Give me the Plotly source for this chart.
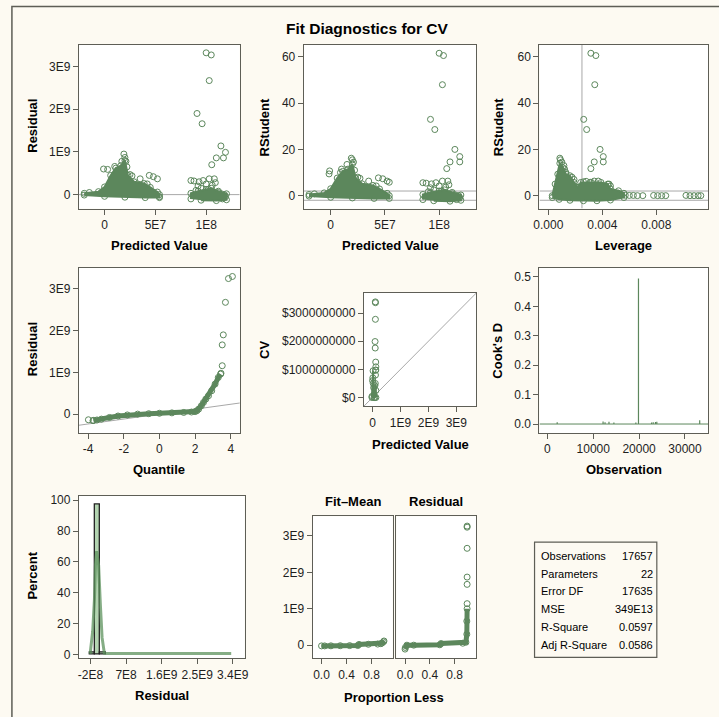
import plotly.graph_objects as go

W, H = 719, 717
GREEN = '#5C875C'
BG = '#FDFAF2'
AXC = '#5E5E56'
REFC = '#A8A8A8'
FONT = 'Liberation Sans, Arial, sans-serif'

# ---------------- data ----------------
# extreme observations (shared by residual / rstudent / leverage / CV panels)
out_pred = [1.00e8, 1.05e8, 1.03e8, 0.91e8, 0.96e8, 1.145e8, 1.19e8, 1.10e8, 1.17e8, 1.055e8]
out_resid = [3.32e9, 3.27e9, 2.67e9, 1.90e9, 1.66e9, 1.14e9, 0.99e9, 0.86e9, 0.86e9, 0.70e9]
out_pred_rs = [1.00e8, 1.04e8, 1.03e8, 0.92e8, 0.96e8, 1.145e8, 1.19e8, 1.10e8, 1.19e8, 1.07e8]
out_rstud = [61.6, 60.6, 48.0, 33.0, 28.6, 20.0, 16.9, 14.6, 14.6, 11.7]
out_lev = [0.00315, 0.00352, 0.00344, 0.00262, 0.00284, 0.00383, 0.00407, 0.00340, 0.00407, 0.00315]
out_cv = [3.40e9, 3.37e9, 2.78e9, 1.99e9, 1.76e9, 1.26e9, 1.09e9, 0.97e9, 0.98e9, 0.80e9]

# panel 1: dense regions (residual vs predicted)
p1_c1_pred = [-2.0e7, -1.5e7, -0.6e7, 0.0, 0.6e7, 1.1e7, 1.6e7, 2.0e7, 2.3e7, 2.9e7, 3.9e7, 4.5e7, 5.2e7, 5.4e7, 5.4e7, 4.0e7, 2.0e7, 0.0, -2.0e7]
p1_c1_res = [0.03e9, 0.05e9, 0.07e9, 0.18e9, 0.45e9, 0.62e9, 0.68e9, 0.80e9, 0.45e9, 0.30e9, 0.26e9, 0.17e9, 0.06e9, 0.0, -0.07e9, -0.07e9, -0.06e9, -0.04e9, -0.01e9]
p1_c2_pred = [0.85e8, 0.85e8, 0.92e8, 1.00e8, 1.05e8, 1.12e8, 1.20e8, 1.20e8, 1.10e8, 0.95e8]
p1_c2_res = [-0.10e9, 0.03e9, 0.08e9, 0.12e9, 0.15e9, 0.08e9, 0.02e9, -0.12e9, -0.14e9, -0.13e9]
p1_pts_pred = [-0.1e7, 0.3e7, 1.0e7, 1.7e7, 1.9e7, 2.0e7, 2.1e7, 2.2e7, 2.5e7, 2.7e7, 3.5e7, 4.4e7, 4.8e7, 5.2e7, 4.2e7, 5.4e7,
               0.85e8, 0.88e8, 0.93e8, 0.97e8, 1.03e8, 1.08e8, 0.90e8, 0.92e8, 0.95e8, 1.00e8, 1.02e8, 1.06e8, 1.09e8, 1.12e8, 1.15e8, 1.18e8, 1.19e8, 1.16e8]
p1_pts_res = [0.60e9, 0.59e9, 0.66e9, 0.78e9, 0.95e9, 0.87e9, 0.78e9, 0.65e9, 0.47e9, 0.44e9, 0.37e9, 0.45e9, 0.42e9, 0.37e9, 0.25e9, -0.05e9,
              0.33e9, 0.32e9, 0.30e9, 0.33e9, 0.37e9, 0.37e9, 0.10e9, 0.20e9, 0.15e9, 0.25e9, 0.12e9, 0.22e9, 0.28e9, 0.05e9, 0.02e9, 0.0, -0.05e9, -0.10e9]

# panel 2: rstudent vs predicted
p2_c1_pred = [-2.0e7, -1.5e7, -0.6e7, 0.0, 0.6e7, 1.1e7, 1.6e7, 2.0e7, 2.3e7, 2.9e7, 3.9e7, 4.5e7, 5.2e7, 5.4e7, 5.4e7, 4.0e7, 2.0e7, 0.0, -2.0e7]
p2_c1_rs = [0.5, 0.8, 1.2, 3.0, 7.6, 10.5, 11.5, 13.6, 7.6, 5.1, 4.4, 2.9, 1.0, 0.0, -1.2, -1.2, -1.0, -0.7, -0.2]
p2_c2_pred = [0.85e8, 0.85e8, 0.92e8, 1.00e8, 1.05e8, 1.12e8, 1.20e8, 1.20e8, 1.10e8, 0.95e8]
p2_c2_rs = [-1.7, 0.5, 1.4, 2.0, 2.5, 1.4, 0.3, -2.0, -2.4, -2.2]
p2_pts_pred = [-0.1e7, -0.15e7, 0.9e7, 1.0e7, 1.5e7, 1.9e7, 2.0e7, 2.1e7, 2.2e7, 2.5e7, 2.7e7, 3.5e7, 4.4e7, 4.8e7, 5.2e7, 5.4e7, 4.2e7,
               0.85e8, 0.88e8, 0.93e8, 0.97e8, 1.03e8, 1.08e8, 0.90e8, 0.92e8, 0.95e8, 1.00e8, 1.02e8, 1.06e8, 1.09e8, 1.12e8, 1.15e8, 1.18e8, 1.19e8, 1.16e8]
p2_pts_rs = [10.7, 9.4, 10.0, 11.5, 13.5, 16.2, 15.5, 14.5, 11.0, 8.0, 7.5, 6.3, 7.7, 7.3, 6.3, 5.8, 4.2,
             5.6, 5.4, 5.1, 5.6, 6.3, 6.3, 1.7, 3.4, 2.5, 4.2, 2.0, 3.7, 4.7, 0.8, 0.3, 0.0, -0.8, -1.7]

# panel 3: rstudent vs leverage
p3_poly_lev = [0.00029, 0.0005, 0.0007, 0.00085, 0.0011, 0.0013, 0.0016, 0.0019, 0.0022, 0.0024, 0.0032, 0.0039, 0.0044, 0.0046, 0.0052, 0.0056, 0.0056, 0.0046, 0.0036, 0.0026, 0.0016, 0.0008, 0.00029]
p3_poly_rs = [0.0, 5.0, 9.3, 14.0, 12.0, 9.3, 8.6, 5.7, 3.6, 5.7, 5.7, 5.7, 5.0, 2.9, 2.1, 1.0, -0.8, -1.9, -2.2, -2.2, -2.0, -1.6, -0.8]
p3_pts_lev = [0.00085, 0.0009, 0.0010, 0.00115, 0.0012, 0.0013, 0.00175, 0.0019, 0.0026, 0.0028, 0.0031, 0.0034, 0.0037, 0.0045, 0.0046, 0.0041, 0.0052, 0.0054,
              0.0057, 0.0060, 0.0063, 0.0066, 0.0070, 0.0078, 0.0081, 0.0084, 0.0087, 0.0102, 0.0105, 0.0108, 0.0111, 0.0113]
p3_pts_rs = [16.2, 15.5, 14.5, 13.0, 11.5, 10.0, 8.0, 7.0, 6.0, 6.2, 5.8, 6.3, 6.3, 5.0, 4.2, 3.0, 1.0, 0.5,
             0.2, 0.1, 0.1, 0.0, 0.0, 0.1, 0.0, 0.0, 0.0, 0.1, 0.0, 0.0, 0.0, 0.0]

# panel 4: Q-Q plot of residuals
qq_band_q = [-3.70, -3.50, -3.25, -2.80, -2.32, -1.80, -1.22, -0.60, 0.0, 0.70, 1.36, 1.80, 2.00, 2.10, 2.20, 2.35, 2.47, 2.60, 2.75, 2.93, 3.12, 3.30, 3.43]
qq_band_r = [-0.150e9, -0.140e9, -0.120e9, -0.080e9, -0.045e9, -0.020e9, 0.0, 0.010e9, 0.020e9, 0.030e9, 0.040e9, 0.050e9, 0.060e9, 0.080e9, 0.120e9, 0.200e9, 0.280e9, 0.360e9, 0.440e9, 0.560e9, 0.720e9, 0.880e9, 0.960e9]
qq_pts_q = [-3.98, -3.72, 3.45, 3.52, 3.52, 3.58, 3.70, 3.87, 4.09]
qq_pts_r = [-0.135e9, -0.155e9, 0.98e9, 1.16e9, 1.66e9, 1.90e9, 2.68e9, 3.25e9, 3.30e9]
qq_ref_q = [-4.6, 4.6]
qq_ref_r = [-2.72e8, 2.72e8]

# panel 5: observed CV vs predicted
p5_c1_pred = [-2.0e7, -2.0e7, 0.0, 1.1e7, 2.0e7, 2.5e7, 4.0e7, 5.5e7, 5.5e7]
p5_c1_cv = [0.0, 0.04e9, 0.60e9, 0.70e9, 0.95e9, 0.50e9, 0.35e9, 0.10e9, 0.0]
p5_c2_pred = [0.85e8, 0.85e8, 1.00e8, 1.20e8, 1.20e8]
p5_c2_cv = [0.0, 0.42e9, 0.50e9, 0.25e9, 0.0]
p5_ref = [-0.4e9, 3.8e9]

# panel 6: Cook's D
cook_obs = [2140, 12140, 12570, 13430, 14500, 19290, 19860, 22710, 23070, 23570, 23860, 33210]
cook_d = [0.006, 0.009, 0.006, 0.008, 0.005, 0.005, 0.495, 0.005, 0.006, 0.007, 0.008, 0.013]

# panel 7: residual histogram (percent) with density curve
hist_mid = [-1.45e8, -0.15e8, 1.15e8]
hist_pct = [1.3, 97.5, 1.2]
dens_x = [-2.1e8, -1.45e8, -1.0e8, -0.75e8, -0.45e8, 0.05e8, 0.5e8, 0.93e8, 1.5e8, 2.0e8, 3.36e9]
dens_y = [0.5, 15.0, 36.0, 58.0, 67.0, 58.0, 32.0, 11.0, 1.0, 0.8, 0.8]

# panel 8: residual-fit spread plot
fm_p = [0.0, 0.05, 0.15, 0.30, 0.45, 0.58, 0.60, 0.75, 0.90, 0.95, 0.97, 0.99, 1.00]
fm_v = [-0.02e9, -0.02e9, -0.018e9, -0.015e9, -0.012e9, -0.01e9, 0.02e9, 0.025e9, 0.03e9, 0.04e9, 0.06e9, 0.09e9, 0.115e9]
rf_p = [0.0, 0.005, 0.03, 0.14, 0.56, 0.58, 0.93, 0.98, 0.995, 0.995, 1.0]
rf_v = [-0.108e9, -0.063e9, 0.0, 0.0, 0.01e9, 0.045e9, 0.054e9, 0.08e9, 0.30e9, 0.66e9, 1.0e9]
rf_out_p = [1.0, 1.0, 1.0, 1.0, 1.0, 1.0]
rf_out_v = [1.14e9, 1.67e9, 1.87e9, 2.66e9, 3.24e9, 3.27e9]

# fit statistics
stat_labels = ['Observations', 'Parameters', 'Error DF', 'MSE', 'R-Square', 'Adj R-Square']
stat_values = ['17657', '22', '17635', '349E13', '0.0597', '0.0586']

# tick labels
t_pred_v, t_pred_t = [0, 5e7, 1e8], ['0', '5E7', '1E8']
t_res_v, t_res_t = [0, 1e9, 2e9, 3e9], ['0', '1E9', '2E9', '3E9']
t_rs_v, t_rs_t = [0, 20, 40, 60], ['0', '20', '40', '60']
t_lev_v, t_lev_t = [0, 0.004, 0.008], ['0.000', '0.004', '0.008']
t_q_v, t_q_t = [-4, -2, 0, 2, 4], ['-4', '-2', '0', '2', '4']
t_cvx_v, t_cvx_t = [0, 1e9, 2e9, 3e9], ['0', '1E9', '2E9', '3E9']
t_cvy_v, t_cvy_t = [0, 1e9, 2e9, 3e9], ['$0', '$1000000000', '$2000000000', '$3000000000']
t_obs_v, t_obs_t = [0, 10000, 20000, 30000], ['0', '10000', '20000', '30000']
t_cd_v, t_cd_t = [0, 0.1, 0.2, 0.3, 0.4, 0.5], ['0.0', '0.1', '0.2', '0.3', '0.4', '0.5']
t_hx_v, t_hx_t = [-2e8, 7e8, 1.6e9, 2.5e9, 3.4e9], ['-2E8', '7E8', '1.6E9', '2.5E9', '3.4E9']
t_pct_v, t_pct_t = [0, 20, 40, 60, 80, 100], ['0', '20', '40', '60', '80', '100']
t_pl_v, t_pl_t = [0, 0.4, 0.8], ['0.0', '0.4', '0.8']

# ---------------- layout helpers ----------------
fig = go.Figure()
layout = {}


def axname(n, a):
    return a if n == 1 else f'{a}{n}'


common = dict(showline=True, mirror=True, linecolor=AXC, linewidth=1.2, ticks='outside', ticklen=5,
              tickcolor=AXC, tickwidth=1, showgrid=False, zeroline=False, fixedrange=True,
              tickfont=dict(family=FONT, size=12, color='#1E1E1E'))


def make_axes(n, xpx, ypx, xr, yr, xt, yt, yshow=True):
    xk = 'xaxis' if n == 1 else f'xaxis{n}'
    yk = 'yaxis' if n == 1 else f'yaxis{n}'
    layout[xk] = dict(domain=[xpx[0] / W, xpx[1] / W], range=list(xr), anchor=axname(n, 'y'),
                      tickmode='array', tickvals=xt[0], ticktext=xt[1], **common)
    yd = dict(domain=[1 - ypx[1] / H, 1 - ypx[0] / H], range=list(yr), anchor=axname(n, 'x'),
              tickmode='array', tickvals=yt[0], ticktext=yt[1], **common)
    if not yshow:
        yd['showticklabels'] = False
        yd['ticks'] = ''
    layout[yk] = yd


R1 = dict(p1=((-0.252e8, 1.33e8), (-0.326e9, 3.51e9)),
          p2=((-0.248e8, 1.343e8), (-5.58, 65.3)),
          p3=((-0.000659, 0.01184), (-5.58, 65.3)),
          p4=((-4.51, 4.50), (-0.452e9, 3.50e9)),
          p5=((-0.307e9, 3.717e9), (-0.307e9, 3.717e9)),
          p6=((-1723, 35040), (-0.0304, 0.530)),
          p7=((-0.492e9, 3.70e9), (-2.4, 103.0)),
          p8=((-0.142, 1.137), (-0.363e9, 3.537e9)),
          p9=((-0.138, 1.149), (-0.363e9, 3.537e9)))

make_axes(1, (74, 237), (43, 208), *R1['p1'], (t_pred_v, t_pred_t), (t_res_v, t_res_t))
make_axes(2, (302, 477), (43, 208), *R1['p2'], (t_pred_v, t_pred_t), (t_rs_v, t_rs_t))
make_axes(3, (541, 712), (43, 208), *R1['p3'], (t_lev_v, t_lev_t), (t_rs_v, t_rs_t))
make_axes(4, (74, 237), (268, 434), *R1['p4'], (t_q_v, t_q_t), (t_res_v, t_res_t))
make_axes(5, (363, 477), (293, 407), *R1['p5'], (t_cvx_v, t_cvx_t), (t_cvy_v, t_cvy_t))
make_axes(6, (541, 712), (268, 434), *R1['p6'], (t_obs_v, t_obs_t), (t_cd_v, t_cd_t))
make_axes(7, (74, 242), (497, 661), *R1['p7'], (t_hx_v, t_hx_t), (t_pct_v, t_pct_t))
make_axes(8, (311, 392), (518, 661), *R1['p8'], (t_pl_v, t_pl_t), (t_res_v, t_res_t))
make_axes(9, (396, 477), (518, 661), *R1['p9'], (t_pl_v, t_pl_t), (t_res_v, t_res_t), yshow=False)

MK = dict(symbol='circle-open', size=6, color=GREEN, line=dict(width=1, color=GREEN))


def sc(n, x, y, **kw):
    fig.add_trace(go.Scatter(x=x, y=y, xaxis=axname(n, 'x'), yaxis=axname(n, 'y'),
                             showlegend=False, hoverinfo='skip', **kw))


def pts(n, x, y):
    sc(n, x, y, mode='markers', marker=MK)


def poly(n, x, y):
    sc(n, x, y, mode='lines+markers', fill='toself', fillcolor=GREEN,
       line=dict(color=GREEN, width=2), marker=MK)


def hline(n, yv, color=REFC):
    xr = R1[f'p{n}'][0]
    sc(n, [xr[0], xr[1]], [yv, yv], mode='lines', line=dict(color=color, width=1))


# panel 1
hline(1, 0)
poly(1, p1_c1_pred, p1_c1_res)
poly(1, p1_c2_pred, p1_c2_res)
pts(1, p1_pts_pred, p1_pts_res)
pts(1, out_pred, out_resid)

# panel 2
hline(2, 2)
hline(2, -2)
poly(2, p2_c1_pred, p2_c1_rs)
poly(2, p2_c2_pred, p2_c2_rs)
pts(2, p2_pts_pred, p2_pts_rs)
pts(2, out_pred_rs, out_rstud)

# panel 3
hline(3, 2)
hline(3, -2)
yr3 = R1['p3'][1]
sc(3, [0.00249, 0.00249], [yr3[0], yr3[1]], mode='lines', line=dict(color=REFC, width=1))
poly(3, p3_poly_lev, p3_poly_rs)
pts(3, p3_pts_lev, p3_pts_rs)
pts(3, out_lev, out_rstud)

# panel 4
sc(4, qq_ref_q, qq_ref_r, mode='lines', line=dict(color=REFC, width=1))
sc(4, qq_band_q, qq_band_r, mode='lines+markers', line=dict(color=GREEN, width=5), marker=MK)
pts(4, qq_pts_q, qq_pts_r)

# panel 5
sc(5, p5_ref, p5_ref, mode='lines', line=dict(color=REFC, width=1))
poly(5, p5_c1_pred, p5_c1_cv)
poly(5, p5_c2_pred, p5_c2_cv)
pts(5, out_pred, out_cv)

# panel 6
hline(6, 0, GREEN)
nx, ny = [], []
for o, d in zip(cook_obs, cook_d):
    nx += [o, o, None]
    ny += [0, d, None]
sc(6, nx, ny, mode='lines', line=dict(color=GREEN, width=1.2))

# panel 7
fig.add_trace(go.Bar(x=hist_mid, y=hist_pct, width=1.3e8, xaxis='x7', yaxis='y7', showlegend=False,
                     hoverinfo='skip', marker=dict(color='#B3D4B1', line=dict(color='#222222', width=1.3))))
sc(7, dens_x, dens_y, mode='lines', line=dict(color='rgba(92,145,92,0.75)', width=3))

# panel 8
sc(8, fm_p, fm_v, mode='lines+markers', line=dict(color=GREEN, width=5), marker=MK)
sc(9, rf_p, rf_v, mode='lines+markers', line=dict(color=GREEN, width=5), marker=MK)
pts(9, rf_out_p, rf_out_v)

# ---------------- annotations ----------------
ann = []


def txt(x, y, s, size=13, bold=True, angle=0, xanchor='center'):
    ann.append(dict(x=x / W, y=1 - y / H, xref='paper', yref='paper', text=f'<b>{s}</b>' if bold else s,
                    showarrow=False, textangle=angle, xanchor=xanchor, yanchor='middle',
                    font=dict(family=FONT, size=size, color='#000000')))


txt(366.7, 27, 'Fit Diagnostics for CV', size=15.5)
txt(155.5, 245, 'Predicted Value')
txt(389.5, 245, 'Predicted Value')
txt(626.5, 245, 'Leverage')
txt(27, 125, 'Residual', angle=-90)
txt(262, 126, 'RStudent', angle=-90)
txt(499, 126, 'RStudent', angle=-90)
txt(155.5, 471, 'Quantile')
txt(420, 446, 'Predicted Value')
txt(626.5, 471, 'Observation')
txt(27, 350, 'Residual', angle=-90)
txt(262, 350, 'CV', angle=-90)
txt(498, 351, "Cook's D", angle=-90)
txt(158, 698, 'Residual')
txt(27, 578, 'Percent', angle=-90)
txt(393.5, 700, 'Proportion Less')
txt(351.5, 503, 'Fit\u2013Mean')
txt(436.5, 503, 'Residual')

row_y = [557.7, 575.6, 593.5, 611.4, 629.3, 647.2]
for lab, val, yy in zip(stat_labels, stat_values, row_y):
    txt(540.5, yy, lab, size=11, bold=False, xanchor='left')
    txt(658, yy, val, size=11, bold=False, xanchor='right')

shapes = [
    dict(type='rect', xref='paper', yref='paper', x0=6 / W, x1=1.05, y0=-0.05, y1=1 - 4.5 / H,
         line=dict(color=AXC, width=1.5), fillcolor='rgba(0,0,0,0)', layer='below'),
    dict(type='rect', xref='paper', yref='paper', x0=536 / W, x1=660 / W, y0=1 - 660 / H, y1=1 - 544 / H,
         line=dict(color=AXC, width=1.2), fillcolor='rgba(0,0,0,0)'),
]

fig.update_layout(width=W, height=H, autosize=False, margin=dict(l=0, r=0, t=0, b=0, pad=0),
                  paper_bgcolor=BG, plot_bgcolor='white', showlegend=False,
                  annotations=ann, shapes=shapes, font=dict(family=FONT), bargap=0, **layout)

fig.write_html('out.html', config={'displayModeBar': False})
